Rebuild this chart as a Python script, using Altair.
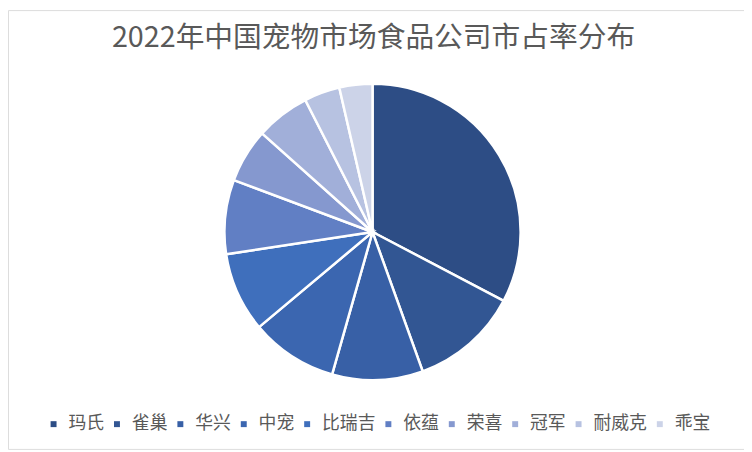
import altair as alt
import pandas as pd

companies = ["玛氏", "雀巢", "华兴", "中宠", "比瑞吉", "依蕴", "荣喜", "冠军", "耐威克", "乖宝"]
shares = [32.7, 11.8, 9.9, 9.5, 8.7, 8.1, 5.9, 5.9, 3.9, 3.6]
colors = ["#2D4D85", "#325693", "#3860A6", "#3B66B0", "#3F6FBC",
          "#617FC4", "#8598CF", "#A1AFD9", "#B7C2E1", "#CCD3E8"]
title_text = "2022年中国宠物市场食品公司市占率分布"

df = pd.DataFrame({"公司": companies, "市占率": shares, "idx": list(range(len(companies)))})

FONT = "Noto Sans CJK SC"

pie = alt.Chart(df).mark_arc(
    outerRadius=149.5, stroke="white", strokeWidth=2.5
).encode(
    theta=alt.Theta("市占率:Q", stack=True),
    order=alt.Order("idx:Q", sort="ascending"),
    color=alt.Color(
        "公司:N",
        scale=alt.Scale(domain=companies, range=colors),
        sort=companies,
        legend=alt.Legend(
            title=None,
            orient="none",
            legendX=37,
            legendY=409,
            direction="horizontal",
            columns=10,
            symbolType="square",
            symbolSize=36,
            symbolStrokeWidth=0,
            labelFont=FONT,
            labelFontSize=18,
            labelColor="#595959",
            labelOffset=6,
            columnPadding=4,
        ),
    ),
    x=alt.value(368),
    y=alt.value(224),
)

title = alt.Chart(pd.DataFrame({"t": [title_text]})).mark_text(
    font=FONT, fontSize=29, color="#595959", align="center", baseline="middle"
).encode(
    text="t:N",
    x=alt.value(369),
    y=alt.value(28),
)

chart = alt.layer(pie, title).properties(
    width=743, height=443, padding=0, autosize=alt.AutoSizeParams(type="none")
).configure_view(
    stroke="#D9D9D9", strokeWidth=1
).configure(background="white")

chart.save("out.html", embed_options={"renderer": "svg", "actions": False})
